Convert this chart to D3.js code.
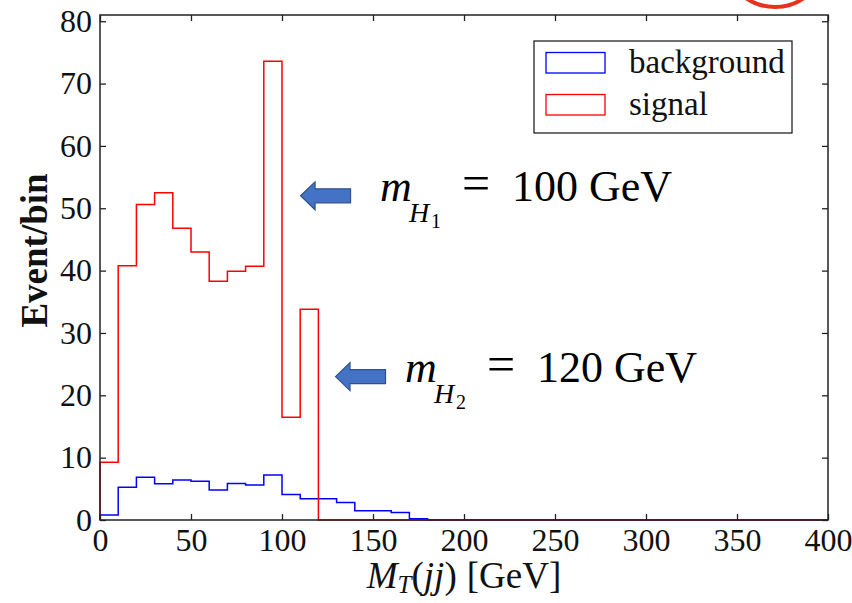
<!DOCTYPE html>
<html>
<head>
<meta charset="utf-8">
<script src="https://cdn.jsdelivr.net/npm/d3@7"></script>
<style>
  body { margin: 0; background: #fff; }
  svg text { font-family: "Liberation Serif", "Times New Roman", Tinos, "DejaVu Serif", serif; }
</style>
</head>
<body>
<div id="viz"></div>
<script>
const width = 852;
const height = 603;
const margin = {top: 15, right: 24, bottom: 83, left: 100};
const serif = '"Liberation Serif", "Times New Roman", Tinos, "DejaVu Serif", serif';

// histogram data, 10 GeV bins from 0 to 400
const binWidth = 10;
const background = [0.8, 5.25, 6.85, 5.8, 6.4, 6.2, 4.8, 5.85, 5.6, 7.2,
                    4.1, 3.4, 3.4, 2.8, 1.5, 1.5, 1.2, 0.2, 0, 0,
                    0, 0, 0, 0, 0, 0, 0, 0, 0, 0,
                    0, 0, 0, 0, 0, 0, 0, 0, 0, 0];
const signal = [9.25, 40.8, 50.6, 52.5, 46.8, 43.0, 38.3, 39.9, 40.7, 73.6,
                16.5, 33.8, 0, 0, 0, 0, 0, 0, 0, 0,
                0, 0, 0, 0, 0, 0, 0, 0, 0, 0,
                0, 0, 0, 0, 0, 0, 0, 0, 0, 0];
const xTicks = [0, 50, 100, 150, 200, 250, 300, 350, 400];
const yTicks = [0, 10, 20, 30, 40, 50, 60, 70, 80];
const legendLabels = ['background', 'signal'];
const colors = ['#0000ff', '#ff0000'];

// annotation arrows (tip position in data units) and their texts
const annoSub = ['1', '2'];
const annoValue = ['100 GeV', '120 GeV'];
const annoTip = [[110.2, 52.0], [129.4, 23.0]];

const svg = d3.select('#viz')
  .append('svg')
    .attr('width', width)
    .attr('height', height)
    .attr('font-family', serif);

const innerW = width - margin.left - margin.right;
const innerH = height - margin.top - margin.bottom;

const x = d3.scaleLinear().domain([0, 400]).range([margin.left, margin.left + innerW]);
const y = d3.scaleLinear().domain([0, 81]).range([margin.top + innerH, margin.top]);

// step outline like matplotlib histtype='step'
const stepLine = d3.line()
  .x(d => x(d[0]))
  .y(d => y(d[1]))
  .curve(d3.curveStepAfter);

function stepPoints(vals) {
  const pts = [[0, 0]];
  vals.forEach((v, i) => pts.push([i * binWidth, v]));
  pts.push([vals.length * binWidth, vals[vals.length - 1]]);
  pts.push([vals.length * binWidth, 0]);
  return pts;
}

[background, signal].forEach((vals, i) => {
  svg.append('path')
    .attr('d', stepLine(stepPoints(vals)))
    .attr('fill', 'none')
    .attr('stroke', colors[i])
    .attr('stroke-width', 1.5);
});

// axes, ticks pointing inward on all four sides
const axB = svg.append('g')
  .attr('transform', `translate(0,${y(0)})`)
  .call(d3.axisBottom(x).tickValues(xTicks).tickSizeInner(-6).tickSizeOuter(0).tickPadding(8));
const axL = svg.append('g')
  .attr('transform', `translate(${x(0)},0)`)
  .call(d3.axisLeft(y).tickValues(yTicks).tickSizeInner(-6).tickSizeOuter(0).tickPadding(8));
const axT = svg.append('g')
  .attr('transform', `translate(0,${y(81)})`)
  .call(d3.axisTop(x).tickValues(xTicks).tickSizeInner(-6).tickSizeOuter(0).tickFormat(''));
const axR = svg.append('g')
  .attr('transform', `translate(${x(400)},0)`)
  .call(d3.axisRight(y).tickValues(yTicks).tickSizeInner(-6).tickSizeOuter(0).tickFormat(''));

[axB, axL, axT, axR].forEach(ax => {
  ax.attr('font-family', serif).attr('font-size', 32);
  ax.select('.domain').remove();
  ax.selectAll('line').attr('stroke', '#222').attr('stroke-width', 1.3);
  ax.selectAll('text').attr('fill', '#111');
});

// frame
svg.append('rect')
  .attr('x', x(0))
  .attr('y', y(81))
  .attr('width', x(400) - x(0))
  .attr('height', y(0) - y(81))
  .attr('fill', 'none')
  .attr('stroke', '#222')
  .attr('stroke-width', 1.5);

// axis labels
svg.append('text')
  .attr('transform', `translate(47,${(173 + 328) / 2}) rotate(-90)`)
  .attr('text-anchor', 'middle')
  .attr('font-size', 37)
  .attr('font-weight', 'bold')
  .attr('fill', '#111')
  .text('Event/bin');

const xl = svg.append('text')
  .attr('x', (x(0) + x(400)) / 2)
  .attr('y', 588)
  .attr('text-anchor', 'middle')
  .attr('font-size', 37)
  .attr('fill', '#111');
xl.append('tspan').attr('font-style', 'italic').text('M');
xl.append('tspan').attr('font-style', 'italic').attr('font-size', 25).attr('dy', 5).text('T');
xl.append('tspan').attr('dy', -5).text('(');
xl.append('tspan').attr('font-style', 'italic').text('jj');
xl.append('tspan').text(')');
xl.append('tspan').attr('dx', 10).text('[GeV]');

// legend
const lg = svg.append('g');
lg.append('rect')
  .attr('x', 534).attr('y', 41)
  .attr('width', 258).attr('height', 92)
  .attr('fill', '#fff')
  .attr('stroke', '#111')
  .attr('stroke-width', 1.2);
legendLabels.forEach((lab, i) => {
  lg.append('rect')
    .attr('x', 546).attr('y', 52.5 + i * 42)
    .attr('width', 59).attr('height', 20.5)
    .attr('fill', 'none')
    .attr('stroke', colors[i])
    .attr('stroke-width', 1.3);
  lg.append('text')
    .attr('x', 629).attr('y', 72.5 + i * 42)
    .attr('font-size', 33)
    .attr('fill', '#111')
    .text(lab);
});

// annotation arrows + mass labels
annoTip.forEach((tip, i) => {
  const tx = x(tip[0]), ty = y(tip[1]);
  const len = 50, headLen = 14.5, headH = 14, shaftH = 7;
  const pts = [
    [tx, ty], [tx + headLen, ty - headH], [tx + headLen, ty - shaftH],
    [tx + len, ty - shaftH], [tx + len, ty + shaftH], [tx + headLen, ty + shaftH],
    [tx + headLen, ty + headH]
  ];
  svg.append('path')
    .attr('d', d3.line()(pts) + 'Z')
    .attr('fill', '#4472c4')
    .attr('stroke', '#2f528f')
    .attr('stroke-width', 1.2);

  const x0 = tx + (i === 0 ? 79.5 : 69.5);
  const base = ty + 5;
  const g = svg.append('g').attr('fill', '#000');
  g.append('text').attr('x', x0).attr('y', base)
    .attr('font-size', 44).attr('font-style', 'italic').text('m');
  g.append('text').attr('x', x0 + 29).attr('y', base + 21)
    .attr('font-size', 28).attr('font-style', 'italic').text('H');
  g.append('text').attr('x', x0 + 51).attr('y', base + 27)
    .attr('font-size', 20).text(annoSub[i]);
  g.append('text').attr('x', x0 + 82).attr('y', base - 1)
    .attr('font-size', 50).text('=');
  g.append('text').attr('x', x0 + 132).attr('y', base)
    .attr('font-size', 44).text(annoValue[i]);
});

// red circle mark at top right corner
svg.append('circle')
  .attr('cx', 775).attr('cy', -44).attr('r', 51)
  .attr('fill', 'none')
  .attr('stroke', '#e8321e')
  .attr('stroke-width', 4);
</script>
</body>
</html>
